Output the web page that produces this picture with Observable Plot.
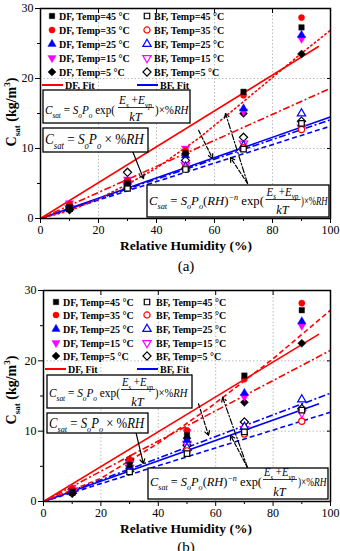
<!DOCTYPE html>
<html><head><meta charset="utf-8">
<script src="https://cdn.jsdelivr.net/npm/d3@7"></script>
<script src="https://cdn.jsdelivr.net/npm/@observablehq/plot@0.6"></script>
<style>
html,body{margin:0;padding:0;background:#fff;}
#chart{width:340px;}
#chart svg{display:block;overflow:visible;}
</style></head><body><div id="chart"></div>
<script>
// ---------------- data ----------------
const rhLevels = [10, 30, 50, 70, 90];
const tempLabels = ["45", "35", "25", "15", "5"];

// panel (a): C_sat (kg/m3) per temperature, at rhLevels
const aDF45 = [1.6, 5.0, 9.3, 18.1, 27.3];
const aDF35 = [2.1, 5.4, 9.7, 17.6, 28.7];
const aDF25 = [1.9, 5.2, 9.0, 15.7, 26.2];
const aDF15 = [2.2, 5.6, 10.0, 15.3, 25.7];
const aDF5  = [1.2, 5.4, 9.3, 15.0, 23.5];
const aBF45 = [1.4, 4.3, 7.0, 9.9, 13.6];
const aBF35 = [1.5, 4.5, 7.2, 10.1, 12.7];
const aBF25 = [1.6, 4.6, 7.4, 10.4, 15.0];
const aBF15 = [1.5, 4.8, 7.6, 10.7, 13.0];
const aBF5  = [1.8, 6.6, 8.3, 11.6, 13.9];

// panel (b)
const bDF45 = [1.4, 5.2, 9.4, 17.9, 27.2];
const bDF35 = [1.8, 6.0, 10.1, 17.4, 28.2];
const bDF25 = [1.6, 5.0, 8.7, 15.4, 25.6];
const bDF15 = [2.0, 5.5, 9.9, 14.9, 25.0];
const bDF5  = [1.1, 5.6, 9.0, 14.1, 22.5];
const bBF45 = [1.3, 4.2, 6.8, 9.9, 13.0];
const bBF35 = [1.4, 4.4, 7.2, 9.6, 11.4];
const bBF25 = [1.5, 4.6, 7.6, 10.6, 14.5];
const bBF15 = [1.4, 4.8, 8.2, 10.3, 12.6];
const bBF5  = [1.7, 5.9, 8.0, 11.3, 13.2];

// fit curves [RH, C_sat]
const aDFsolid   = [[0,0],[96,24.6]];
const aDFdot     = [[0,0],[10,1.1],[20,2.8],[30,4.9],[40,7.2],[55,11.6],[70,16.7],[90,23.6],[100,26.9]];
const aDFdashdot = [[0,0],[100,18.6]];
const aBFsolid   = [[0,0],[100,14.5]];
const aBFdashdot = [[0,0],[100,14.1]];
const aBFdash    = [[0,0],[100,13.2]];

const bDFsolid   = [[0,0],[96,23.8]];
const bDFdash    = [[0,0],[20,3.3],[40,8.3],[58,13.4],[80,20.3],[100,27.2]];
const bDFdashdot = [[0,0],[100,21.5]];
const bBFsolid   = [[0,0],[96,13.9]];
const bBFdashdot = [[0,0],[100,15.4]];
const bBFdash    = [[0,0],[100,12.7]];

// annotation arrows [x1,y1,x2,y2] in data units
const aArrowSolid   = [[31,10.4,35.5,5.7]];
const aArrowDashDot = [[71.4,5.0,63.8,15.0]];
const aArrowDash    = [[71.4,5.0,65.5,8.7],[54.5,12.6,59.3,8.6]];
const bArrowSolid   = [[31.4,11.2,34.8,5.4]];
const bArrowDashDot = [[71.1,4.8,62.4,14.8]];
const bArrowDash    = [[71.1,4.8,65.2,9.4],[54,13.9,57.5,9.4]];

// ---------------- style ----------------
const serif = "'Liberation Serif','Times New Roman',Times,serif";
const RED = "#ff0000", BLUE = "#0000ff";
const tempColors = ["#000000", "#ff0000", "#0000ff", "#ff00ff", "#000000"];
const triDown = {draw(ctx, size){const s3=Math.sqrt(3);const y=-Math.sqrt(size/(s3*3));ctx.moveTo(0,-y*2);ctx.lineTo(-s3*y,y);ctx.lineTo(s3*y,y);ctx.closePath();}};
const diamondSq = {draw(ctx, size){const r=Math.sqrt(size/2)*1.05;ctx.moveTo(0,-r);ctx.lineTo(r,0);ctx.lineTo(0,r);ctx.lineTo(-r,0);ctx.closePath();}};
const tempSymbols = [d3.symbolSquare, d3.symbolCircle, d3.symbolTriangle, triDown, diamondSq];
const DASHDOT = "7,2.5,2,2.5", DASH = "5,3", DOT = "1.5,3";

function rich(parent, segs, size, weight) {
  const t = parent.append("text").attr("font-family", serif).attr("font-size", size)
    .attr("fill", "black").attr("text-anchor", "start").style("white-space", "pre");
  if (weight) t.attr("font-weight", weight);
  let shift = 0;
  for (const s of segs) {
    const target = s.sub ? size * 0.3 : s.sup ? -size * 0.42 : 0;
    const ts = t.append("tspan").text(s.t).attr("dy", target - shift);
    shift = target;
    if (s.i) ts.attr("font-style", "italic");
    if (s.sub || s.sup) ts.attr("font-size", size * 0.65);
  }
  return t;
}
function place(t, x, y, w, anchor) {
  const nat = t.node().getBBox().width || 1;
  const sx = w ? w / nat : 1;
  const width = nat * sx;
  const x0 = anchor === "middle" ? x - width / 2 : anchor === "end" ? x - width : x;
  t.attr("transform", `translate(${x0},${y}) scale(${sx},1)`);
}

const fC = [{t:"C",i:1},{t:"sat",i:1,sub:1},{t:" = "},{t:"S",i:1},{t:"o",i:1,sub:1},{t:"P",i:1},{t:"o",i:1,sub:1}];
const fNum = [{t:"E",i:1},{t:"s",i:1,sub:1},{t:" +"},{t:"E",i:1},{t:"vp",i:1,sub:1}];
const fDen = [{t:"kT",i:1}];
const fRight = [{t:")×%"},{t:"RH",i:1}];
const f1Left = [...fC, {t:" exp("}];
const f2 = [...fC, {t:" × %"},{t:"RH",i:1}];
const f3Left = [...fC, {t:"("},{t:"RH",i:1},{t:")"},{t:"−n",i:1,sup:1},{t:" exp("}];

function fraction(g, F, size) {
  place(rich(g, F.left, size), F.lx, F.y, F.lw);
  place(rich(g, fNum, size*0.9), F.nx, F.ny, F.nw, "middle");
  g.append("line").attr("x1", F.nx - F.nw/2 - 1).attr("x2", F.nx + F.nw/2 + 1)
    .attr("y1", F.fy).attr("y2", F.fy).attr("stroke", "black").attr("stroke-width", 0.8);
  place(rich(g, fDen, size*0.95), F.nx, F.dy, null, "middle");
  place(rich(g, fRight, size), F.rx, F.y, F.rw);
}
function box(g, b) {
  g.append("rect").attr("x", b[0]).attr("y", b[1]).attr("width", b[2]).attr("height", b[3])
    .attr("fill", "white").attr("stroke", "black").attr("stroke-width", 1.3);
}

function panel(cfg) {
  const rows = [];
  cfg.df.forEach((arr, ti) => arr.forEach((v, k) => rows.push({x: rhLevels[k], y: v, ti, fam: "DF"})));
  cfg.bf.forEach((arr, ti) => arr.forEach((v, k) => rows.push({x: rhLevels[k], y: v, ti, fam: "BF"})));
  const marks = [
    Plot.gridX({ticks: [20,40,60,80], stroke: "#bbb", strokeOpacity: 1, strokeDasharray: "1.5,2"}),
    Plot.gridY({ticks: [10,20], stroke: "#bbb", strokeOpacity: 1, strokeDasharray: "1.5,2"}),
  ];
  for (const L of cfg.lines)
    marks.push(Plot.line(L.data, {x: d => d[0], y: d => d[1], stroke: L.color, strokeWidth: 1.6,
      strokeDasharray: L.dash, strokeLinecap: L.dash === DOT ? "round" : "butt", clip: true}));
  for (const A of cfg.arrows)
    marks.push(Plot.arrow(A.data, {x1: d => d[0], y1: d => d[1], x2: d => d[2], y2: d => d[3],
      stroke: "black", strokeWidth: 1.2, headLength: 6, strokeDasharray: A.dash}));
  for (const fam of ["BF", "DF"]) for (let ti = 4; ti >= 0; ti--) {
    const c = tempColors[ti];
    marks.push(Plot.dot(rows.filter(r => r.fam === fam && r.ti === ti), {x: "x", y: "y", r: 3.1,
      symbol: tempSymbols[ti], fill: fam === "DF" ? c : "white", stroke: c, strokeWidth: fam === "DF" ? 0.4 : 1.2}));
  }
  marks.push(
    Plot.frame({stroke: "black", strokeWidth: 1.5}),
    Plot.axisX({ticks: [0,20,40,60,80,100], tickSize: 5, tickPadding: 2, label: null, fontSize: 12, fontFamily: serif}),
    Plot.axisX({ticks: [10,30,50,70,90], tickSize: 3, text: null, label: null}),
    Plot.axisX({anchor: "top", ticks: [20,40,60,80], tickSize: 4, dy: 4, text: null, label: null}),
    Plot.axisY({ticks: [0,10,20,30], tickSize: 5, tickPadding: 2, label: null, fontSize: 12, fontFamily: serif}),
    Plot.axisY({ticks: [5,15,25], tickSize: 3, text: null, label: null}),
    Plot.axisY({anchor: "right", ticks: [10,20], tickSize: 4, dx: -4, text: null, label: null})
  );
  const svg = Plot.plot({
    width: 340, height: cfg.height,
    marginTop: cfg.m[0], marginRight: cfg.m[1], marginBottom: cfg.m[2], marginLeft: cfg.m[3],
    x: {domain: [0, 100]}, y: {domain: [0, 30]},
    style: {fontFamily: serif, fontSize: "12px", color: "black", background: "white", overflow: "visible"},
    marks
  });
  document.getElementById("chart").appendChild(svg);
  const g = d3.select(svg).append("g").attr("text-anchor", "start");
  const L = cfg.legend;
  // legend
  tempLabels.forEach((t, i) => {
    const y = L.rows[i];
    [["DF", L.x1, L.t1], ["BF", L.x2, L.t2]].forEach(([fam, sx, tx]) => {
      g.append("path").attr("d", d3.symbol(tempSymbols[i], 30)())
        .attr("transform", `translate(${sx},${y})`)
        .attr("fill", fam === "DF" ? tempColors[i] : "white").attr("stroke", tempColors[i])
        .attr("stroke-width", fam === "DF" ? 0.4 : 1.2);
      g.append("text").attr("x", tx).attr("y", y + 3.5).attr("font-family", serif).attr("text-anchor", "start")
        .attr("font-size", 10).attr("font-weight", "bold").text(`${fam}, Temp=${t} °C`);
    });
  });
  [["DF, Fit", RED, L.fr], ["BF, Fit", BLUE, L.fb]].forEach(([lab, c, f]) => {
    g.append("line").attr("x1", f[0]).attr("x2", f[1]).attr("y1", L.fy).attr("y2", L.fy)
      .attr("stroke", c).attr("stroke-width", 2);
    g.append("text").attr("x", f[2]).attr("y", L.fy + 3.5).attr("font-family", serif).attr("text-anchor", "start")
      .attr("font-size", 10).attr("font-weight", "bold").text(lab);
  });
  // formula boxes
  box(g, cfg.box1.b); fraction(g, cfg.box1, 13);
  box(g, cfg.box2.b); place(rich(g, f2, cfg.box2.size), cfg.box2.x, cfg.box2.y, cfg.box2.w);
  box(g, cfg.box3.b); fraction(g, cfg.box3, 13);
  // axis labels
  const yl = rich(g, [{t:"C"},{t:"sat",sub:1},{t:" (kg/m"},{t:"3",sup:1},{t:")"}], 14, "bold");
  yl.attr("text-anchor", "middle").attr("transform", `translate(${cfg.yl[0]},${cfg.yl[1]}) rotate(-90)`);
  g.append("text").attr("x", 186).attr("y", cfg.xt).attr("text-anchor", "middle")
    .attr("font-family", serif).attr("font-size", 13.5).attr("font-weight", "bold").text("Relative Humidity (%)");
  g.append("text").attr("x", 186).attr("y", cfg.cap).attr("text-anchor", "middle")
    .attr("font-family", serif).attr("font-size", 15).text(cfg.caption);
}

panel({
  height: 276, m: [8, 10, 58, 40], caption: "(a)",
  df: [aDF45, aDF35, aDF25, aDF15, aDF5], bf: [aBF45, aBF35, aBF25, aBF15, aBF5],
  lines: [
    {data: aBFdash, color: BLUE, dash: DASH}, {data: aBFdashdot, color: BLUE, dash: DASHDOT}, {data: aBFsolid, color: BLUE},
    {data: aDFdashdot, color: RED, dash: DASHDOT}, {data: aDFdot, color: RED, dash: DOT}, {data: aDFsolid, color: RED}
  ],
  arrows: [{data: aArrowSolid}, {data: aArrowDashDot, dash: "6,2,1.5,2"}, {data: aArrowDash, dash: "4,2"}],
  legend: {rows: [16,30,44,58,72], x1: 52, t1: 59, x2: 147, t2: 154, fy: 85, fr: [42,63,65], fb: [137,158,160]},
  box1: {b: [43,90,147,33], left: f1Left, lx: 45, y: 114, lw: 70, nx: 136, ny: 104, nw: 34, fy: 107.5, dy: 121, rx: 155, rw: 34},
  box2: {b: [43,128,105,24], x: 45, y: 144, w: 100, size: 15},
  box3: {b: [147,185,182,32], left: f3Left, lx: 149, y: 205, lw: 115, nx: 283, ny: 195.5, nw: 33, fy: 199.5, dy: 214, rx: 301, rw: 27},
  yl: [16, 112], xt: 250, cap: 271
});
panel({
  height: 275, m: [14, 10, 50, 43], caption: "(b)",
  df: [bDF45, bDF35, bDF25, bDF15, bDF5], bf: [bBF45, bBF35, bBF25, bBF15, bBF5],
  lines: [
    {data: bBFdash, color: BLUE, dash: DASH}, {data: bBFdashdot, color: BLUE, dash: DASHDOT}, {data: bBFsolid, color: BLUE},
    {data: bDFdashdot, color: RED, dash: DASHDOT}, {data: bDFdash, color: RED, dash: DASH}, {data: bDFsolid, color: RED}
  ],
  arrows: [{data: bArrowSolid}, {data: bArrowDashDot, dash: "6,2,1.5,2"}, {data: bArrowDash, dash: "4,2"}],
  legend: {rows: [26,39,53,67,80], x1: 56, t1: 63, x2: 147, t2: 156, fy: 93, fr: [45,66,68], fb: [137,158,160]},
  box1: {b: [47,99,145,33], left: f1Left, lx: 49, y: 121, lw: 71, nx: 138, ny: 110, nw: 32, fy: 113.5, dy: 130, rx: 155, rw: 33},
  box2: {b: [47,137,101,20], x: 49, y: 152, w: 96, size: 14},
  box3: {b: [148,192,180,31], left: f3Left, lx: 150, y: 210, lw: 112, nx: 280, ny: 200, nw: 32, fy: 203.5, dy: 220, rx: 298, rw: 29},
  yl: [16, 114], xt: 257, cap: 276
});
</script>
</body></html>
